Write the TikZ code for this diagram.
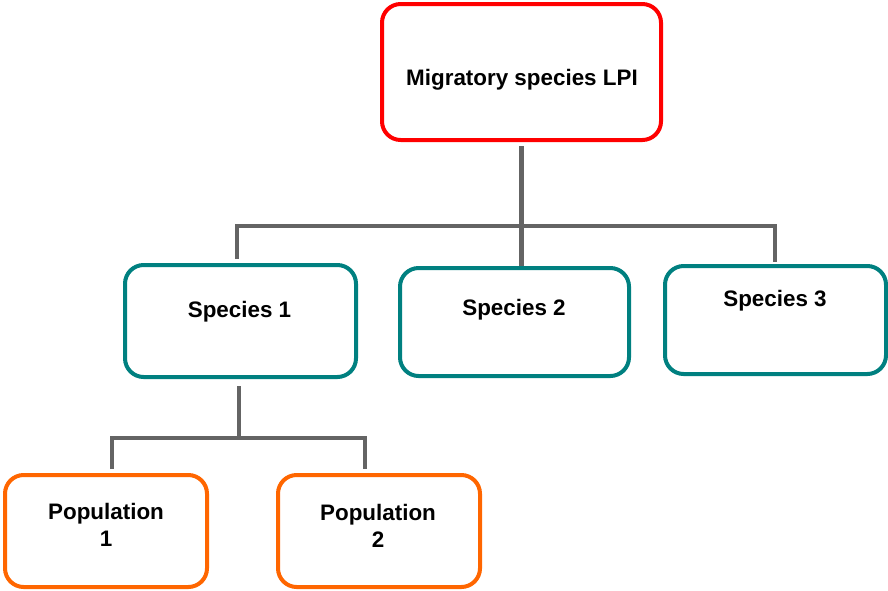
\documentclass[tikz,border=0pt]{standalone}
\usepackage{fontspec}
\setmainfont{Liberation Sans}
\begin{document}
\begin{tikzpicture}[x=0.75pt,y=-0.75pt,
  box/.style={draw,line width=3pt,rounded corners=14pt,fill=white,inner sep=0pt},
  topbox/.style={box,draw={rgb,255:red,255;green,0;blue,0}},
  specbox/.style={box,draw={rgb,255:red,0;green,128;blue,128}},
  popbox/.style={box,draw={rgb,255:red,255;green,102;blue,0}},
  conn/.style={draw={rgb,255:red,100;green,100;blue,100},line width=3.6pt,line join=miter},
  lbl/.style={font=\fontsize{16.8pt}{20.25pt}\selectfont\bfseries,anchor=base,align=center,inner sep=0pt}]
\useasboundingbox (0,0) rectangle (888,590);
% boxes
\node[topbox,minimum width=279*0.75pt,minimum height=136*0.75pt] (top) at (521.5,72) {};
\node[specbox,minimum width=231*0.75pt,minimum height=112*0.75pt] (s1) at (240.5,321) {};
\node[specbox,minimum width=229*0.75pt,minimum height=108*0.75pt] (s2) at (514.5,322) {};
\node[specbox,minimum width=221*0.75pt,minimum height=108*0.75pt] (s3) at (775.5,320) {};
\node[popbox,minimum width=202*0.75pt,minimum height=112*0.75pt] (p1) at (106,531) {};
\node[popbox,minimum width=202*0.75pt,minimum height=112*0.75pt] (p2) at (379,531) {};
% texts
\node[lbl] (ttop) at (522,85) {Migratory species LPI};
\node[lbl] (ts1) at (239.5,317) {Species 1};
\node[lbl] (ts2) at (514,315) {Species 2};
\node[lbl] (ts3) at (775,306) {Species 3};
\node[lbl] (tp1) at (106,546) {Population\\1};
\node[lbl] (tp2) at (378,547) {Population\\2};
% connectors
\coordinate (j1) at (521.5,226);
\coordinate (a1) at (237,259);
\coordinate (a3) at (775,262);
\draw[conn] ([yshift=-3pt]top.south) -- (j1);
\draw[conn] (a1) |- (j1) -| (a3);
\draw[conn] (j1) -- (j1 |- s2.north);
\coordinate (b1) at (239,386);
\coordinate (j2) at (239,438);
\coordinate (c1) at (112,469);
\coordinate (c2) at (365,469);
\draw[conn] (b1) -- (j2);
\draw[conn] (c1) |- (j2) -| (c2);
\end{tikzpicture}
\end{document}
